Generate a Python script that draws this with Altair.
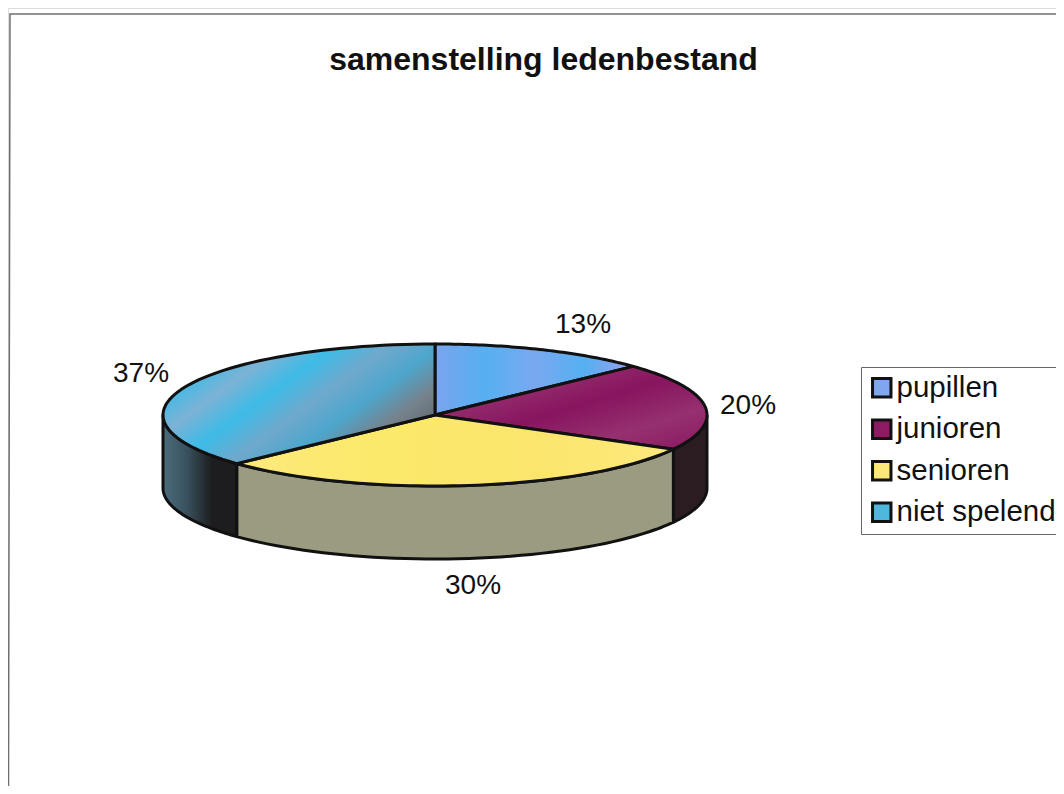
import math
import altair as alt
import pandas as pd

categories = ["pupillen", "junioren", "senioren", "niet spelend"]
shares = [13, 20, 30, 37]
labels = ["13%", "20%", "30%", "37%"]
legend_colors = ["#7fa6ee", "#8e1a63", "#fbe878", "#4fb6dc"]

# layout of the flattened pie, in page pixels
CX, CY, RX, RY, DEPTH = 435, 415, 272, 71, 73
label_x = [583, 748, 473, 141]
label_y = [325, 406, 586, 374]
FONT = "Liberation Sans"
PLOT_W = 1048
PLOT_H = 778


def grad(stops, x1=0, y1=0, x2=1, y2=0):
    n = len(stops) - 1
    return alt.LinearGradient(
        gradient="linear", x1=x1, y1=y1, x2=x2, y2=y2,
        stops=[alt.GradientStop(color=c, offset=i / n) for i, c in enumerate(stops)],
    )


top_fill = {
    "pupillen": grad(["#7ba4ee", "#55b0f2", "#7aa8f0", "#55b0f2", "#9c9eee"]),
    "junioren": grad(["#8a1760", "#96306f", "#87155f", "#96306f", "#8a1760"], y1=0, y2=1),
    "senioren": grad(["#fde97c", "#fbe96a", "#fbe56c", "#fde97c"]),
    "niet spelend": grad(
        ["#7db4d8", "#3dbbe6", "#7cb2d6", "#3dbbe6", "#6fa9cd", "#4da6cc", "#76828c", "#5d666d"],
        x1=0, y1=0.1, x2=1, y2=0.7,
    ),
}
side_fill = {
    "junioren": "#2a1c20",
    "senioren": "#9a9b80",
    "niet spelend": grad(["#4c6c7e", "#38505c", "#1d1d1f", "#1d1d1f"]),
}


def pt(t, drop=0):
    return CX + RX * math.sin(t), CY - RY * math.cos(t) + drop


def frame(points):
    return pd.DataFrame({"i": range(len(points)),
                         "x": [p[0] for p in points],
                         "y": [p[1] for p in points]})


X = alt.X("x:Q", axis=None, scale=alt.Scale(domain=[8, 8 + PLOT_W]))
Y = alt.Y("y:Q", axis=None, scale=alt.Scale(domain=[8 + PLOT_H, 8]))


def face(points, fill):
    return alt.Chart(frame(points)).mark_line(
        fill=fill, stroke="#111111", strokeWidth=3, strokeJoin="round", clip=False
    ).encode(x=X, y=Y, order="i:Q")


starts = []
acc = 0
for s in shares:
    starts.append(acc)
    acc += s

layers = []

# hidden anchor that carries the legend, covered by the pie
legend_df = pd.DataFrame({"name": categories, "x": [CX] * 4, "y": [CY] * 4})
layers.append(
    alt.Chart(legend_df).mark_square(size=4).encode(
        x=X, y=Y,
        color=alt.Color(
            "name:N",
            scale=alt.Scale(domain=categories, range=legend_colors),
            sort=categories,
            legend=alt.Legend(
                title=None, orient="none", legendX=853, legendY=359,
                symbolType="square", symbolSize=340, symbolStrokeColor="#111111",
                symbolStrokeWidth=3, symbolOpacity=1,
                labelFont=FONT, labelFontSize=29.5, labelColor="#111111", labelLimit=300,
                labelOffset=0, rowPadding=10.5,
                padding=6, strokeColor="#666666", fillColor="white",
            ),
        ),
    )
)

# side walls
for name, s, v in zip(categories, starts, shares):
    a, b = max(s, 25), min(s + v, 75)
    if a >= b or name not in side_fill:
        continue
    ts = [2 * math.pi * (a + (b - a) * k / 48) / 100 for k in range(49)]
    pts = [pt(t) for t in ts] + [pt(t, DEPTH) for t in reversed(ts)]
    pts.append(pts[0])
    layers.append(face(pts, side_fill[name]))

# top faces
for name, s, v in zip(categories, starts, shares):
    ts = [2 * math.pi * (s + v * k / 60) / 100 for k in range(61)]
    pts = [(CX, CY)] + [pt(t) for t in ts] + [(CX, CY)]
    layers.append(face(pts, top_fill[name]))

# percentage labels
label_df = pd.DataFrame({"label": labels, "x": label_x, "y": label_y})
layers.append(
    alt.Chart(label_df).mark_text(font=FONT, fontSize=28, color="#111111").encode(
        x=X, y=Y, text="label:N"
    )
)

# chart frame
frame_df = pd.DataFrame({"x": [8 + PLOT_W, 10, 8.5], "y": [14, 14, 8 + PLOT_H], "i": [0, 1, 2]})
layers.append(
    alt.Chart(frame_df).mark_line(stroke="#6f6f6f", strokeWidth=1.5, clip=False).encode(
        x=X, y=Y, order="i:Q"
    )
)

chart = (
    alt.layer(*layers)
    .properties(
        width=PLOT_W,
        height=PLOT_H,
        padding=0,
        autosize=alt.AutoSizeParams(type="none"),
        title=alt.TitleParams(
            "samenstelling ledenbestand",
            font=FONT, fontSize=32, fontWeight="bold", color="#111111",
            anchor="middle", dx=11.5, dy=69, offset=0,
        ),
    )
    .configure_view(strokeOpacity=0)
    .configure_legend(strokeWidth=1.5)
    .configure(background="white")
)

chart.save("out.html", embed_options={"renderer": "svg", "actions": False})
